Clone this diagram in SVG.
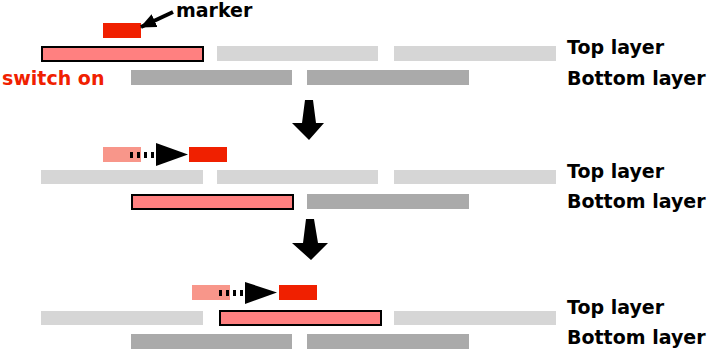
<svg xmlns="http://www.w3.org/2000/svg" width="710" height="355" viewBox="0 0 710 355">
<defs>
<style>
.top{fill:#d6d6d6}
.bot{fill:#aaaaaa}
.sel{fill:#ff8080;stroke:#000;stroke-width:2}
.mk{fill:#f02000}
.fade{fill:#f8968a}
.lbl{font-family:"DejaVu Sans",sans-serif;font-weight:bold;font-size:19px;fill:#000}
.dots{stroke:#000;stroke-width:6;stroke-dasharray:3 4}
.big{fill:#000}
</style>
<marker id="ah" markerWidth="16" markerHeight="14" refX="15" refY="7" orient="auto" markerUnits="userSpaceOnUse">
<path d="M0,0 L16,7 L0,14 Z" fill="#000"/>
</marker>
</defs>
<rect width="710" height="355" fill="#fff"/>

<g id="panel1">
<rect class="top" x="217" y="46" width="161" height="15"/>
<rect class="top" x="394" y="46" width="162" height="15"/>
<rect class="bot" x="131" y="70" width="161" height="15"/>
<rect class="bot" x="307" y="70" width="162" height="15"/>
<rect class="sel" x="42" y="47" width="161" height="14"/>
<rect class="mk" x="103" y="23" width="38" height="15"/>
<text class="lbl" x="567" y="54">Top layer</text>
<text class="lbl" x="567" y="85">Bottom layer</text>
<text x="2" y="85" font-family="DejaVu Sans, sans-serif" font-weight="bold" font-size="19" fill="#f02000">switch on</text>
<text x="176" y="17" font-family="DejaVu Sans, sans-serif" font-weight="bold" font-size="19" fill="#000">marker</text>
</g>

<g id="panel2">
<rect class="top" x="41" y="170" width="162" height="14"/>
<rect class="top" x="217" y="170" width="161" height="14"/>
<rect class="top" x="394" y="170" width="162" height="14"/>
<rect class="bot" x="307" y="194" width="162" height="15"/>
<rect class="sel" x="132" y="195" width="161" height="14"/>
<rect class="fade" x="103" y="147" width="38" height="15"/>
<rect class="mk" x="189" y="147" width="38" height="15"/>
<text class="lbl" x="567" y="178">Top layer</text>
<text class="lbl" x="567" y="208">Bottom layer</text>
</g>

<g id="panel3">
<rect class="top" x="41" y="311" width="162" height="14"/>
<rect class="top" x="394" y="311" width="162" height="14"/>
<rect class="bot" x="131" y="334" width="161" height="15"/>
<rect class="bot" x="307" y="334" width="162" height="15"/>
<rect class="sel" x="220" y="311" width="161" height="14"/>
<rect class="fade" x="192" y="285" width="38" height="15"/>
<rect class="mk" x="279" y="285" width="38" height="15"/>
<text class="lbl" x="567" y="314">Top layer</text>
<text class="lbl" x="567" y="344">Bottom layer</text>
</g>

<g id="connectors">
<line x1="173" y1="12" x2="141" y2="27" stroke="#000" stroke-width="4" marker-end="url(#ah)"/>
<line class="dots" x1="130" y1="155" x2="158" y2="155"/>
<polygon class="big" points="156,143 188,154.5 156,166"/>
<line class="dots" x1="219" y1="293" x2="247" y2="293"/>
<polygon class="big" points="245,282 277,292.5 245,304"/>
<polygon class="big" points="305,100 313,100 316,123 324,123 309,140 292,123 302,123"/>
<polygon class="big" points="306,219 314,219 318,243 328,243 311,260 292,243 303,243"/>
</g>
</svg>
